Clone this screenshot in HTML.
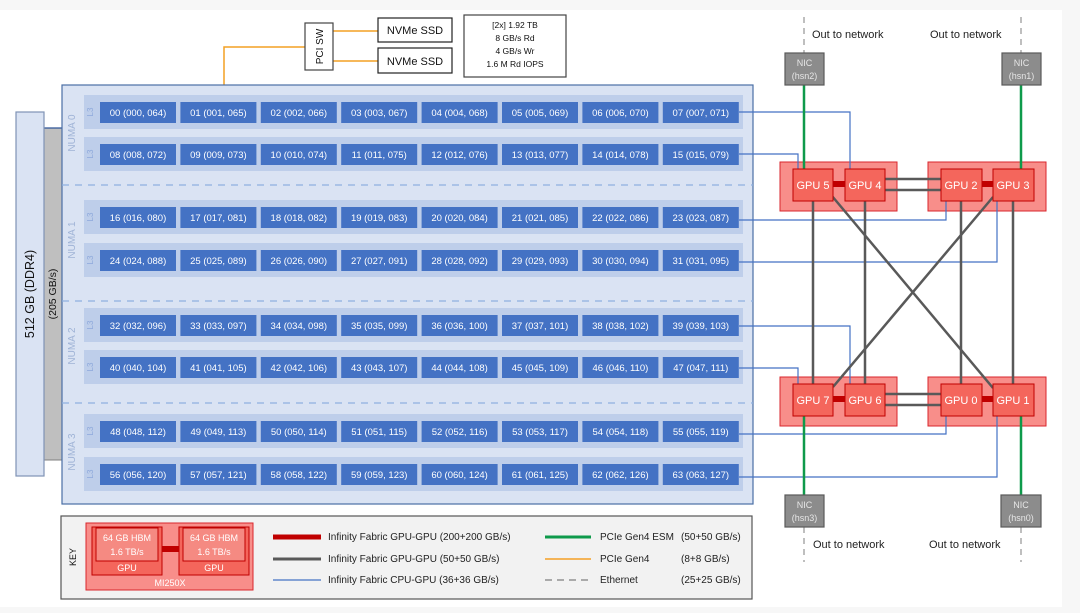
<!DOCTYPE html>
<html><head><meta charset="utf-8"><style>
html,body{margin:0;padding:0;background:#f7f7f7;}
svg{display:block;font-family:"Liberation Sans",sans-serif;}
.c{fill:#4472c4;}
.ct{fill:#fff;font-size:9.5px;text-anchor:middle;}
.b{fill:#b4c7e7;opacity:.75}
.l3{fill:#8ea9db;font-size:8px;text-anchor:middle;}
.nm{fill:#9fb3d6;font-size:10px;text-anchor:middle;}
.gpu{fill:#f4665c;stroke:#c00000;stroke-width:1;}
.grp{fill:#f88e8a;stroke:#d9262c;stroke-width:1;}
.gt{fill:#fff;font-size:11px;text-anchor:middle;}
.nic{fill:#8c8c8c;stroke:#595959;stroke-width:1.2;}
.nt{fill:#e6e6e6;font-size:9px;text-anchor:middle;}
.k{font-size:10px;fill:#222;}
</style></head><body>
<svg width="1080" height="613" viewBox="0 0 1080 613">
<rect x="0" y="10" width="1062" height="597" fill="#fff"/>
<!-- memory -->
<rect x="44" y="128" width="18" height="332" fill="#bfbfbf" stroke="#7f7f7f" stroke-width="1"/>
<line x1="44" y1="128" x2="62" y2="128" stroke="#2f5597" stroke-width="1.2"/>
<rect x="16" y="112" width="28" height="364" fill="#dae3f3" stroke="#7f93b5" stroke-width="1.2"/>
<text transform="translate(34,294) rotate(-90)" text-anchor="middle" font-size="12.5" fill="#111">512 GB (DDR4)</text>
<text transform="translate(56,294) rotate(-90)" text-anchor="middle" font-size="10.5" fill="#111">(205 GB/s)</text>
<!-- PCI / NVMe -->
<polyline points="224,85 224,47 305,47" fill="none" stroke="#f4a024" stroke-width="1.5"/>
<line x1="333" y1="31" x2="378" y2="31" stroke="#f4a024" stroke-width="1.5"/>
<line x1="333" y1="61" x2="378" y2="61" stroke="#f4a024" stroke-width="1.5"/>
<rect x="305" y="23" width="28" height="47" fill="#fff" stroke="#444" stroke-width="1.2"/>
<text transform="translate(323,46.5) rotate(-90)" text-anchor="middle" font-size="10" fill="#111">PCI SW</text>
<rect x="378" y="18" width="74" height="24" fill="#fff" stroke="#222" stroke-width="1.2"/>
<text x="415" y="34" text-anchor="middle" font-size="11" fill="#111">NVMe SSD</text>
<rect x="378" y="48" width="74" height="25" fill="#fff" stroke="#222" stroke-width="1.2"/>
<text x="415" y="65" text-anchor="middle" font-size="11" fill="#111">NVMe SSD</text>
<rect x="464" y="15" width="102" height="62" fill="#fff" stroke="#444" stroke-width="1.2"/>
<g font-size="8.5" fill="#111" text-anchor="middle">
<text x="515" y="28">[2x] 1.92 TB</text><text x="515" y="41">8 GB/s Rd</text><text x="515" y="54">4 GB/s Wr</text><text x="515" y="67">1.6 M Rd IOPS</text></g>
<!-- CPU box -->
<rect x="62" y="85" width="691" height="419" fill="#dae3f3" stroke="#4a6fa5" stroke-width="1.2"/>
<g stroke="#8fb0e0" stroke-width="1.2" stroke-dasharray="7,6">
<line x1="62" y1="185" x2="753" y2="185"/><line x1="62" y1="301" x2="753" y2="301"/><line x1="62" y1="403" x2="753" y2="403"/></g>
<g>
<rect class="b" x="84" y="95" width="659" height="34"/><rect class="b" x="84" y="137" width="659" height="34"/>
<rect class="b" x="84" y="200" width="659" height="34"/><rect class="b" x="84" y="243" width="659" height="34"/>
<rect class="b" x="84" y="308" width="659" height="34"/><rect class="b" x="84" y="350" width="659" height="34"/>
<rect class="b" x="84" y="414" width="659" height="34"/><rect class="b" x="84" y="457" width="659" height="34"/>
</g>
<g>
<text class="l3" transform="translate(93,112) rotate(-90)">L3</text><text class="l3" transform="translate(93,154) rotate(-90)">L3</text>
<text class="l3" transform="translate(93,217) rotate(-90)">L3</text><text class="l3" transform="translate(93,260) rotate(-90)">L3</text>
<text class="l3" transform="translate(93,325) rotate(-90)">L3</text><text class="l3" transform="translate(93,367) rotate(-90)">L3</text>
<text class="l3" transform="translate(93,431) rotate(-90)">L3</text><text class="l3" transform="translate(93,474) rotate(-90)">L3</text>
<text class="nm" transform="translate(75,133) rotate(-90)">NUMA 0</text>
<text class="nm" transform="translate(75,240) rotate(-90)">NUMA 1</text>
<text class="nm" transform="translate(75,346) rotate(-90)">NUMA 2</text>
<text class="nm" transform="translate(75,452) rotate(-90)">NUMA 3</text>
</g>
<!-- cores -->
<g>
<rect class="c" x="100" y="102" width="76" height="21"/><text class="ct" x="138" y="116">00 (000, 064)</text>
<rect class="c" x="180.4" y="102" width="76" height="21"/><text class="ct" x="218.4" y="116">01 (001, 065)</text>
<rect class="c" x="260.8" y="102" width="76" height="21"/><text class="ct" x="298.8" y="116">02 (002, 066)</text>
<rect class="c" x="341.2" y="102" width="76" height="21"/><text class="ct" x="379.2" y="116">03 (003, 067)</text>
<rect class="c" x="421.6" y="102" width="76" height="21"/><text class="ct" x="459.6" y="116">04 (004, 068)</text>
<rect class="c" x="502" y="102" width="76" height="21"/><text class="ct" x="540" y="116">05 (005, 069)</text>
<rect class="c" x="582.4" y="102" width="76" height="21"/><text class="ct" x="620.4" y="116">06 (006, 070)</text>
<rect class="c" x="662.8" y="102" width="76" height="21"/><text class="ct" x="700.8" y="116">07 (007, 071)</text>

<rect class="c" x="100" y="144" width="76" height="21"/><text class="ct" x="138" y="158">08 (008, 072)</text>
<rect class="c" x="180.4" y="144" width="76" height="21"/><text class="ct" x="218.4" y="158">09 (009, 073)</text>
<rect class="c" x="260.8" y="144" width="76" height="21"/><text class="ct" x="298.8" y="158">10 (010, 074)</text>
<rect class="c" x="341.2" y="144" width="76" height="21"/><text class="ct" x="379.2" y="158">11 (011, 075)</text>
<rect class="c" x="421.6" y="144" width="76" height="21"/><text class="ct" x="459.6" y="158">12 (012, 076)</text>
<rect class="c" x="502" y="144" width="76" height="21"/><text class="ct" x="540" y="158">13 (013, 077)</text>
<rect class="c" x="582.4" y="144" width="76" height="21"/><text class="ct" x="620.4" y="158">14 (014, 078)</text>
<rect class="c" x="662.8" y="144" width="76" height="21"/><text class="ct" x="700.8" y="158">15 (015, 079)</text>

<rect class="c" x="100" y="207" width="76" height="21"/><text class="ct" x="138" y="221">16 (016, 080)</text>
<rect class="c" x="180.4" y="207" width="76" height="21"/><text class="ct" x="218.4" y="221">17 (017, 081)</text>
<rect class="c" x="260.8" y="207" width="76" height="21"/><text class="ct" x="298.8" y="221">18 (018, 082)</text>
<rect class="c" x="341.2" y="207" width="76" height="21"/><text class="ct" x="379.2" y="221">19 (019, 083)</text>
<rect class="c" x="421.6" y="207" width="76" height="21"/><text class="ct" x="459.6" y="221">20 (020, 084)</text>
<rect class="c" x="502" y="207" width="76" height="21"/><text class="ct" x="540" y="221">21 (021, 085)</text>
<rect class="c" x="582.4" y="207" width="76" height="21"/><text class="ct" x="620.4" y="221">22 (022, 086)</text>
<rect class="c" x="662.8" y="207" width="76" height="21"/><text class="ct" x="700.8" y="221">23 (023, 087)</text>

<rect class="c" x="100" y="250" width="76" height="21"/><text class="ct" x="138" y="264">24 (024, 088)</text>
<rect class="c" x="180.4" y="250" width="76" height="21"/><text class="ct" x="218.4" y="264">25 (025, 089)</text>
<rect class="c" x="260.8" y="250" width="76" height="21"/><text class="ct" x="298.8" y="264">26 (026, 090)</text>
<rect class="c" x="341.2" y="250" width="76" height="21"/><text class="ct" x="379.2" y="264">27 (027, 091)</text>
<rect class="c" x="421.6" y="250" width="76" height="21"/><text class="ct" x="459.6" y="264">28 (028, 092)</text>
<rect class="c" x="502" y="250" width="76" height="21"/><text class="ct" x="540" y="264">29 (029, 093)</text>
<rect class="c" x="582.4" y="250" width="76" height="21"/><text class="ct" x="620.4" y="264">30 (030, 094)</text>
<rect class="c" x="662.8" y="250" width="76" height="21"/><text class="ct" x="700.8" y="264">31 (031, 095)</text>

<rect class="c" x="100" y="315" width="76" height="21"/><text class="ct" x="138" y="329">32 (032, 096)</text>
<rect class="c" x="180.4" y="315" width="76" height="21"/><text class="ct" x="218.4" y="329">33 (033, 097)</text>
<rect class="c" x="260.8" y="315" width="76" height="21"/><text class="ct" x="298.8" y="329">34 (034, 098)</text>
<rect class="c" x="341.2" y="315" width="76" height="21"/><text class="ct" x="379.2" y="329">35 (035, 099)</text>
<rect class="c" x="421.6" y="315" width="76" height="21"/><text class="ct" x="459.6" y="329">36 (036, 100)</text>
<rect class="c" x="502" y="315" width="76" height="21"/><text class="ct" x="540" y="329">37 (037, 101)</text>
<rect class="c" x="582.4" y="315" width="76" height="21"/><text class="ct" x="620.4" y="329">38 (038, 102)</text>
<rect class="c" x="662.8" y="315" width="76" height="21"/><text class="ct" x="700.8" y="329">39 (039, 103)</text>

<rect class="c" x="100" y="357" width="76" height="21"/><text class="ct" x="138" y="371">40 (040, 104)</text>
<rect class="c" x="180.4" y="357" width="76" height="21"/><text class="ct" x="218.4" y="371">41 (041, 105)</text>
<rect class="c" x="260.8" y="357" width="76" height="21"/><text class="ct" x="298.8" y="371">42 (042, 106)</text>
<rect class="c" x="341.2" y="357" width="76" height="21"/><text class="ct" x="379.2" y="371">43 (043, 107)</text>
<rect class="c" x="421.6" y="357" width="76" height="21"/><text class="ct" x="459.6" y="371">44 (044, 108)</text>
<rect class="c" x="502" y="357" width="76" height="21"/><text class="ct" x="540" y="371">45 (045, 109)</text>
<rect class="c" x="582.4" y="357" width="76" height="21"/><text class="ct" x="620.4" y="371">46 (046, 110)</text>
<rect class="c" x="662.8" y="357" width="76" height="21"/><text class="ct" x="700.8" y="371">47 (047, 111)</text>

<rect class="c" x="100" y="421" width="76" height="21"/><text class="ct" x="138" y="435">48 (048, 112)</text>
<rect class="c" x="180.4" y="421" width="76" height="21"/><text class="ct" x="218.4" y="435">49 (049, 113)</text>
<rect class="c" x="260.8" y="421" width="76" height="21"/><text class="ct" x="298.8" y="435">50 (050, 114)</text>
<rect class="c" x="341.2" y="421" width="76" height="21"/><text class="ct" x="379.2" y="435">51 (051, 115)</text>
<rect class="c" x="421.6" y="421" width="76" height="21"/><text class="ct" x="459.6" y="435">52 (052, 116)</text>
<rect class="c" x="502" y="421" width="76" height="21"/><text class="ct" x="540" y="435">53 (053, 117)</text>
<rect class="c" x="582.4" y="421" width="76" height="21"/><text class="ct" x="620.4" y="435">54 (054, 118)</text>
<rect class="c" x="662.8" y="421" width="76" height="21"/><text class="ct" x="700.8" y="435">55 (055, 119)</text>

<rect class="c" x="100" y="464" width="76" height="21"/><text class="ct" x="138" y="478">56 (056, 120)</text>
<rect class="c" x="180.4" y="464" width="76" height="21"/><text class="ct" x="218.4" y="478">57 (057, 121)</text>
<rect class="c" x="260.8" y="464" width="76" height="21"/><text class="ct" x="298.8" y="478">58 (058, 122)</text>
<rect class="c" x="341.2" y="464" width="76" height="21"/><text class="ct" x="379.2" y="478">59 (059, 123)</text>
<rect class="c" x="421.6" y="464" width="76" height="21"/><text class="ct" x="459.6" y="478">60 (060, 124)</text>
<rect class="c" x="502" y="464" width="76" height="21"/><text class="ct" x="540" y="478">61 (061, 125)</text>
<rect class="c" x="582.4" y="464" width="76" height="21"/><text class="ct" x="620.4" y="478">62 (062, 126)</text>
<rect class="c" x="662.8" y="464" width="76" height="21"/><text class="ct" x="700.8" y="478">63 (063, 127)</text>
</g>
<!-- ethernet dashed -->
<g stroke="#aaa" stroke-width="1.5" stroke-dasharray="6,5">
<line x1="804" y1="17" x2="804" y2="53"/><line x1="1021" y1="17" x2="1021" y2="53"/>
<line x1="804" y1="527" x2="804" y2="562"/><line x1="1021" y1="527" x2="1021" y2="562"/></g>
<g font-size="11" fill="#222">
<text x="812" y="38">Out to network</text><text x="930" y="38">Out to network</text>
<text x="813" y="548">Out to network</text><text x="929" y="548">Out to network</text></g>
<!-- group boxes -->
<rect class="grp" x="780" y="162" width="117" height="49"/>
<rect class="grp" x="928" y="162" width="118" height="49"/>
<rect class="grp" x="780" y="377" width="117" height="49"/>
<rect class="grp" x="928" y="377" width="118" height="49"/>
<!-- blue CPU-GPU lines -->
<g fill="none" stroke="#4472c4" stroke-width="1.2">
<polyline points="739,112 850,112 850,169"/>
<polyline points="739,154 798,154 798,169"/>
<polyline points="739,220 946,220 946,201"/>
<polyline points="739,262 997,262 997,201"/>
<polyline points="739,326 850,326 850,384"/>
<polyline points="739,368 798,368 798,384"/>
<polyline points="739,434 946,434 946,416"/>
<polyline points="739,477 997,477 997,416"/>
</g>
<!-- gray GPU-GPU lines -->
<g stroke="#595959" stroke-width="2.5">
<line x1="813" y1="200" x2="813" y2="384"/><line x1="865" y1="200" x2="865" y2="384"/>
<line x1="961" y1="200" x2="961" y2="384"/><line x1="1013" y1="200" x2="1013" y2="384"/>
<line x1="832" y1="196" x2="993" y2="388"/><line x1="993" y1="197" x2="833" y2="387"/>
<line x1="885" y1="179" x2="941" y2="179"/><line x1="885" y1="190" x2="941" y2="190"/>
<line x1="885" y1="394" x2="941" y2="394"/><line x1="885" y1="405" x2="941" y2="405"/>
</g>
<!-- green -->
<g stroke="#0e9a4b" stroke-width="2.5">
<line x1="804" y1="85" x2="804" y2="169"/><line x1="1021" y1="85" x2="1021" y2="169"/>
<line x1="804" y1="416" x2="804" y2="495"/><line x1="1021" y1="416" x2="1021" y2="495"/></g>
<!-- red links -->
<g fill="#c00000">
<rect x="832" y="181" width="13" height="6"/><rect x="981" y="181" width="13" height="6"/>
<rect x="832" y="396" width="13" height="6"/><rect x="981" y="396" width="13" height="6"/></g>
<!-- GPUs -->
<rect class="gpu" x="793" y="169" width="40" height="32"/><text class="gt" x="813" y="189">GPU 5</text>
<rect class="gpu" x="845" y="169" width="40" height="32"/><text class="gt" x="865" y="189">GPU 4</text>
<rect class="gpu" x="941" y="169" width="41" height="32"/><text class="gt" x="961" y="189">GPU 2</text>
<rect class="gpu" x="993" y="169" width="41" height="32"/><text class="gt" x="1013" y="189">GPU 3</text>
<rect class="gpu" x="793" y="384" width="40" height="32"/><text class="gt" x="813" y="404">GPU 7</text>
<rect class="gpu" x="845" y="384" width="40" height="32"/><text class="gt" x="865" y="404">GPU 6</text>
<rect class="gpu" x="941" y="384" width="41" height="32"/><text class="gt" x="961" y="404">GPU 0</text>
<rect class="gpu" x="993" y="384" width="41" height="32"/><text class="gt" x="1013" y="404">GPU 1</text>
<!-- NICs -->
<rect class="nic" x="785" y="53" width="39" height="32"/><text class="nt" x="804.5" y="66">NIC</text><text class="nt" x="804.5" y="79">(hsn2)</text>
<rect class="nic" x="1002" y="53" width="39" height="32"/><text class="nt" x="1021.5" y="66">NIC</text><text class="nt" x="1021.5" y="79">(hsn1)</text>
<rect class="nic" x="785" y="495" width="39" height="32"/><text class="nt" x="804.5" y="508">NIC</text><text class="nt" x="804.5" y="521">(hsn3)</text>
<rect class="nic" x="1001" y="495" width="40" height="32"/><text class="nt" x="1021" y="508">NIC</text><text class="nt" x="1021" y="521">(hsn0)</text>
<!-- KEY -->
<rect x="61" y="516" width="691" height="83" fill="#f2f2f2" stroke="#555" stroke-width="1.2"/>
<text transform="translate(76,557) rotate(-90)" text-anchor="middle" font-size="9" fill="#111">KEY</text>
<rect class="grp" x="86" y="523" width="167" height="67"/>
<rect x="162" y="546" width="17" height="6" fill="#c00000"/>
<rect class="gpu" x="92" y="527" width="70" height="48"/>
<rect x="96" y="528" width="62" height="33" fill="#f58a82" stroke="#c00000" stroke-width="1"/>
<rect class="gpu" x="179" y="527" width="70" height="48"/>
<rect x="183" y="528" width="62" height="33" fill="#f58a82" stroke="#c00000" stroke-width="1"/>
<g fill="#fff" font-size="9" text-anchor="middle">
<text x="127" y="541">64 GB HBM</text><text x="127" y="555">1.6 TB/s</text><text x="127" y="571">GPU</text>
<text x="214" y="541">64 GB HBM</text><text x="214" y="555">1.6 TB/s</text><text x="214" y="571">GPU</text>
<text x="170" y="586">MI250X</text></g>
<line x1="273" y1="537" x2="321" y2="537" stroke="#c00000" stroke-width="5"/>
<line x1="273" y1="559" x2="321" y2="559" stroke="#595959" stroke-width="3"/>
<line x1="273" y1="580" x2="321" y2="580" stroke="#4472c4" stroke-width="1.2"/>
<line x1="545" y1="537" x2="591" y2="537" stroke="#0e9a4b" stroke-width="3"/>
<line x1="545" y1="559" x2="591" y2="559" stroke="#f4a024" stroke-width="1.5"/>
<line x1="545" y1="580" x2="591" y2="580" stroke="#aaa" stroke-width="2" stroke-dasharray="7,5"/>
<g class="k">
<text x="328" y="540">Infinity Fabric GPU-GPU  (200+200 GB/s)</text>
<text x="328" y="562">Infinity Fabric GPU-GPU  (50+50 GB/s)</text>
<text x="328" y="583">Infinity Fabric CPU-GPU  (36+36 GB/s)</text>
<text x="600" y="540">PCIe Gen4 ESM</text><text x="681" y="540">(50+50 GB/s)</text>
<text x="600" y="562">PCIe Gen4</text><text x="681" y="562">(8+8 GB/s)</text>
<text x="600" y="583">Ethernet</text><text x="681" y="583">(25+25 GB/s)</text>
</g>
</svg>
</body></html>
